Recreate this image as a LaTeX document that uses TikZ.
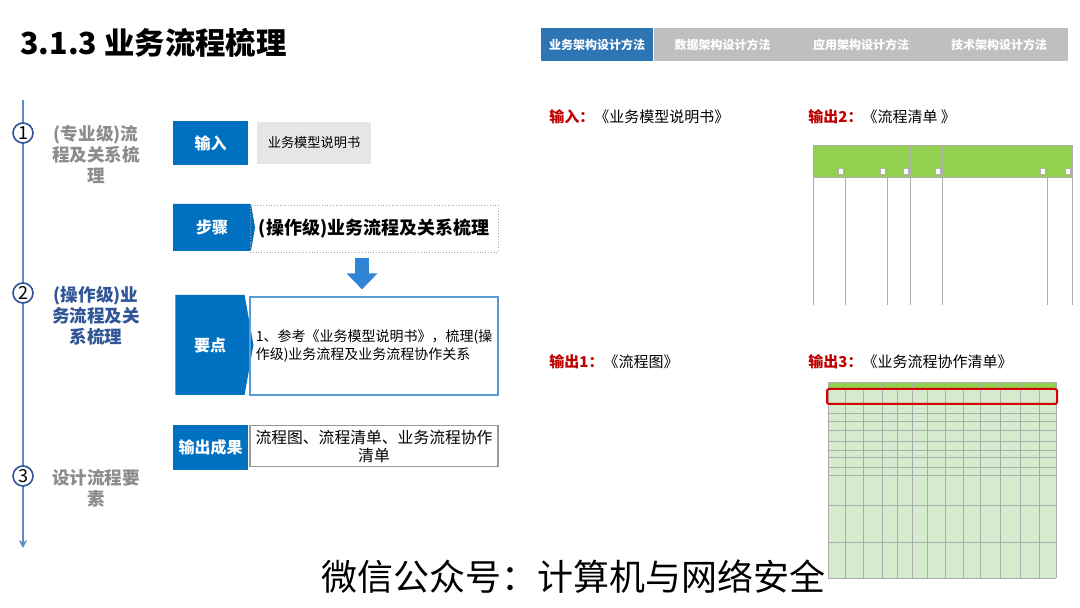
\documentclass[tikz,border=0pt]{standalone}
\usepackage{fontspec}
\setmainfont{Noto Sans CJK SC}
\usepackage{tikz}
\usetikzlibrary{arrows.meta,positioning,calc,shapes.symbols}
\definecolor{BizBlue}{HTML}{0070C0}
\definecolor{TabBlue}{HTML}{2E75B6}
\definecolor{TabGray}{HTML}{BFBFBF}
\definecolor{LineBlue}{HTML}{5B8CC8}
\definecolor{Navy}{HTML}{2F5597}
\definecolor{MidGray}{HTML}{8C8C8C}
\definecolor{OutRed}{HTML}{C00000}
\definecolor{HeadGreen}{HTML}{92D050}
\definecolor{BodyGreen}{HTML}{D5EBCD}
\definecolor{SoftGray}{HTML}{E7E6E6}
\definecolor{KeyBlue}{HTML}{5B9BD5}
\definecolor{ArrowBlue}{HTML}{2F84D3}

\tikzset{
  tabcell/.style={minimum height=16.5pt,inner sep=0pt,text=white,font=\fontsize{6}{7}\selectfont\bfseries},
  bluetag/.style={fill=BizBlue,text=white,inner sep=0pt,font=\fontsize{8}{9}\selectfont\bfseries},
  chevtag/.style={bluetag,shape=signal,signal to=east,signal pointer angle=160},
  infobox/.style={minimum width=124pt,inner sep=2pt,align=center},
  stepnum/.style={circle,draw=Navy,fill=white,line width=0.8pt,minimum size=10pt,inner sep=0pt,font=\fontsize{9}{9}\selectfont},
  steplabel/.style={align=center,font=\fontsize{8.8}{10.5}\selectfont\bfseries},
  outlabel/.style={anchor=west,inner sep=0pt,font=\fontsize{7.5}{9}\selectfont},
  gridline/.style={gray!65,line width=0.3pt}
}

\begin{document}
\begin{tikzpicture}[x=0.5pt,y=-0.5pt]
        \useasboundingbox[fill=white] (0,0) rectangle (1080,608);
        \node[anchor=west,inner sep=0pt,font=\fontsize{15.2}{18}\selectfont\bfseries] (title) at (20,43) {3.1.3 业务流程梳理};

        \node[tabcell,fill=TabBlue,minimum width=56pt] (tabbiz) at (597,44.5) {业务架构设计方法};
        \node[tabcell,fill=TabGray,minimum width=69pt] (tabdata) at (722.5,44.5) {数据架构设计方法};
        \node[tabcell,fill=TabGray,minimum width=69pt] (tabapp) at (861,44.5) {应用架构设计方法};
        \node[tabcell,fill=TabGray,minimum width=69pt] (tabtech) at (999,44.5) {技术架构设计方法};

        \coordinate (tltop) at (23,100);
        \coordinate (tlend) at (23,548);
        \draw[LineBlue,line width=1pt,-{Stealth[length=4pt,width=4pt]}] (tltop) -- (tlend);
        \node[stepnum] (n1) at (23,133) {1};
        \node[stepnum] (n2) at (23,293) {2};
        \node[stepnum] (n3) at (23,476) {3};
        \node[steplabel,text=MidGray] (lab1) at (96,154) {(专业级)流\\程及关系梳\\理};
        \node[steplabel,text=Navy] (lab2) at (96,316) {(操作级)业\\务流程及关\\系梳理};
        \node[steplabel,text=MidGray] (lab3) at (96,488) {设计流程要\\素};

        \node[bluetag,minimum width=37.5pt,minimum height=22pt] (input) at (210.5,143) {输入};
        \node[fill=SoftGray,minimum width=57pt,minimum height=21pt,inner sep=0pt,font=\fontsize{6.6}{8}\selectfont] (inputdoc) at (314,143) {业务模型说明书};
        \node[chevtag,minimum width=41pt,minimum height=23.5pt] (steptag) at (212,227.5) {步骤};
        \node[draw=gray!70,densely dotted,infobox,minimum height=23.5pt,font=\fontsize{9}{10}\selectfont\bfseries] (steptext) at (374,228.5) {(操作级)业务流程及关系梳理};
        \node[chevtag,minimum width=39pt,minimum height=50pt] (keytag) at (210,345) {要点};
        \node[draw=KeyBlue,line width=0.6pt,infobox,minimum height=49pt,align=left,font=\fontsize{7}{9}\selectfont] (keytext) at (374,346) {1、参考《业务模型说明书》，梳理(操\\作级)业务流程及业务流程协作关系};
        \node[bluetag,minimum width=37.5pt,minimum height=22.5pt] (outtag) at (210.5,447.5) {输出成果};
        \node[draw=gray!80,line width=0.6pt,infobox,minimum height=20pt,font=\fontsize{7.9}{9}\selectfont] (outtext) at (374,446) {流程图、流程清单、业务流程协作\\清单};
        \draw[ArrowBlue,line width=7pt,-{Triangle[width=15pt,length=8pt]}] ($(steptext.south)+(-12,6)$) -- ($(keytext.north)+(-12,-7)$);

        \node[outlabel] (inlabel) at (549,117) {{\color{OutRed}\bfseries 输入：}《业务模型说明书》};
        \node[outlabel] (out2label) at (808,117) {{\color{OutRed}\bfseries 输出2：}《流程清单 》};
        \node[outlabel] (out1label) at (549,362) {{\color{OutRed}\bfseries 输出1：}《流程图》};
        \node[outlabel] (out3label) at (808,362) {{\color{OutRed}\bfseries 输出3：}《业务流程协作清单》};

        \fill[HeadGreen] (813,145) rectangle (1072,177);
        \draw[gridline] (813,305) -- (813,145) -- (1072,145) -- (1072,305);
        \draw[gridline] (813,177) -- (1072,177);
        \foreach \cx in {845,887,910,942,1047} \draw[gridline] (\cx,145) -- (\cx,305);
        \foreach \cx in {845,887,910,942,1047,1072} \draw[gray!60,fill=white,line width=0.2pt] (\cx-7,168) rectangle (\cx-2,174);

        \fill[BodyGreen] (828,389) rectangle (1056,578);
        \fill[HeadGreen] (828,382) rectangle (1056,389);
        \foreach \ry in {382,389,403,413,421,430,441,450,457,467,475,505,542,578} \draw[gridline] (828,\ry) -- (1056,\ry);
        \foreach \cx in {828,845,863,882,897,912,927,945,963,980,1000,1020,1039,1056} \draw[gridline] (\cx,382) -- (\cx,578);
        \draw[red!85!black,line width=1pt,rounded corners=1pt] (827,389) rectangle (1057,404);

        \node[font=\fontsize{18}{20}\selectfont] (mark) at (573,577) {微信公众号：计算机与网络安全};
      \end{tikzpicture}
\end{document}
